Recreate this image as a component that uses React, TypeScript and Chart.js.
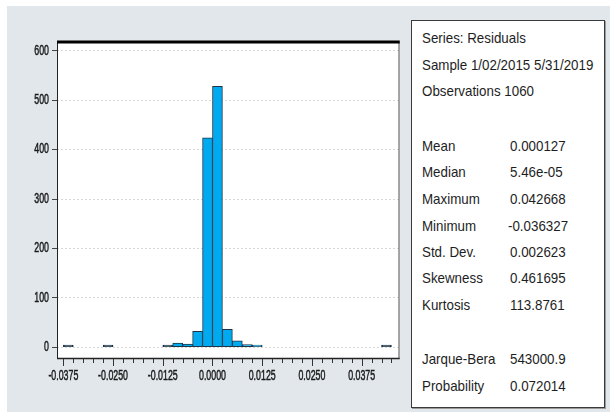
import React, { useEffect, useRef } from "react";
import { Chart, registerables } from "chart.js";

Chart.register(...registerables);

// ---- data ----
const binLeftEdges = [-0.0375, -0.0275, -0.0125, -0.01, -0.0075, -0.005, -0.0025, 0.0, 0.0025, 0.005, 0.0075, 0.01, 0.0425];
const binCounts = [1, 1, 2, 8, 6, 32, 424, 528, 36, 13, 5, 3, 1];
const binWidth = 0.0025;

const yTickValues = [0, 100, 200, 300, 400, 500, 600];
const xMajorTicks = [-0.0375, -0.025, -0.0125, 0, 0.0125, 0.025, 0.0375];
const xTickLabels = ["-0.0375", "-0.0250", "-0.0125", "0.0000", "0.0125", "0.0250", "0.0375"];
const xMinorTickFirst = -0.0375;
const xMinorTickLast = 0.045;
const xMinorStep = 0.0025;

const statLabels = ["Mean", "Median", "Maximum", "Minimum", "Std. Dev.", "Skewness", "Kurtosis"];
const statValues = ["0.000127", "5.46e-05", "0.042668", "-0.036327", "0.002623", "0.461695", "113.8761"];
const testLabels = ["Jarque-Bera", "Probability"];
const testValues = ["543000.9", "0.072014"];
const headerLines = ["Series: Residuals", "Sample 1/02/2015 5/31/2019", "Observations 1060"];

const AXIS_FONT = "14px 'Liberation Sans', Arial, sans-serif";
const AXIS_SQUEEZE = 0.63;
const TEXT_FONT = "'Liberation Sans', Arial, sans-serif";
const BAR_FILL = "#00aaf0";
const BAR_EDGE = "#1d3446";

function drawSqueezed(ctx: CanvasRenderingContext2D, text: string, x: number, y: number, align: "center" | "right") {
  ctx.save();
  ctx.translate(x, y);
  ctx.scale(AXIS_SQUEEZE, 1);
  ctx.textAlign = align;
  ctx.textBaseline = "middle";
  ctx.fillText(text, 0, 0);
  ctx.lineWidth = 0.5;
  ctx.strokeText(text, 0, 0);
  ctx.restore();
}

const framePlugin = {
  id: "frame",
  beforeDraw(chart: any) {
    const { ctx, chartArea: a } = chart;
    ctx.save();
    ctx.fillStyle = "#ffffff";
    ctx.fillRect(a.left, a.top, a.right - a.left, a.bottom - a.top);
    ctx.restore();
  },
  afterDraw(chart: any) {
    const { ctx, chartArea: a } = chart;
    const xs = chart.scales.x;
    const ys = chart.scales.y;
    ctx.save();
    // frame
    ctx.strokeStyle = "#8a8a8a";
    ctx.lineWidth = 1.5;
    ctx.beginPath();
    ctx.moveTo(a.right, a.top);
    ctx.lineTo(a.right, a.bottom);
    ctx.stroke();
    ctx.strokeStyle = "#222222";
    ctx.lineWidth = 1;
    ctx.beginPath();
    ctx.moveTo(a.left + 0.5, a.top);
    ctx.lineTo(a.left + 0.5, a.bottom);
    ctx.stroke();
    ctx.lineWidth = 1.5;
    ctx.beginPath();
    ctx.moveTo(a.left, a.bottom + 0.5);
    ctx.lineTo(a.right + 0.75, a.bottom + 0.5);
    ctx.stroke();
    ctx.strokeStyle = "#000000";
    ctx.lineWidth = 3;
    ctx.beginPath();
    ctx.moveTo(a.left, a.top);
    ctx.lineTo(a.right + 0.75, a.top);
    ctx.stroke();
    // x tick marks
    ctx.strokeStyle = "#333333";
    ctx.lineWidth = 1;
    const n = Math.round((xMinorTickLast - xMinorTickFirst) / xMinorStep);
    for (let k = 0; k <= n; k++) {
      const v = xMinorTickFirst + k * xMinorStep;
      const isMajor = xMajorTicks.some((m) => Math.abs(m - v) < 1e-9);
      const px = Math.round(xs.getPixelForValue(v)) + 0.5;
      ctx.beginPath();
      ctx.moveTo(px, a.bottom + 1);
      ctx.lineTo(px, a.bottom + (isMajor ? 8 : 5));
      ctx.stroke();
    }
    // tick labels (condensed, like the EViews output)
    ctx.fillStyle = "#1a1a1a";
    ctx.strokeStyle = "#1a1a1a";
    ctx.font = AXIS_FONT;
    xMajorTicks.forEach((v, i) => {
      drawSqueezed(ctx, xTickLabels[i], xs.getPixelForValue(v), a.bottom + 18, "center");
    });
    yTickValues.forEach((v) => {
      drawSqueezed(ctx, String(v), a.left - 8, ys.getPixelForValue(v), "right");
    });
    ctx.restore();
  },
};

function HistogramChart() {
  const ref = useRef<HTMLCanvasElement | null>(null);
  useEffect(() => {
    if (!ref.current) return;
    const data = binLeftEdges.map((l, i) => ({ x: l + binWidth / 2, y: binCounts[i] }));
    const chart = new Chart(ref.current, {
      type: "bar",
      data: {
        datasets: [
          {
            data,
            // bins holding only a count or two are thinner than their outline: show them as the dark dash
            backgroundColor: (c: any) => (c.raw && c.raw.y <= 2 ? BAR_EDGE : BAR_FILL),
            borderColor: BAR_EDGE,
            borderWidth: 1,
            borderSkipped: false,
            barPercentage: 1,
            categoryPercentage: 1,
            minBarLength: 2,
          } as any,
        ],
      },
      options: {
        responsive: false,
        animation: false,
        layout: { padding: { left: 0, top: 42, right: 11, bottom: 0 } },
        plugins: { legend: { display: false }, tooltip: { enabled: false } },
        scales: {
          x: {
            type: "linear",
            min: -0.0391,
            max: 0.0469,
            offset: false,
            afterBuildTicks: (s: any) => {
              s.ticks = xMajorTicks.map((v) => ({ value: v }));
            },
            afterFit: (s: any) => {
              s.height = 54;
            },
            grid: { display: false, drawTicks: false },
            border: { display: false },
            ticks: { display: false, autoSkip: false, maxRotation: 0 },
          },
          y: {
            type: "linear",
            min: -22,
            max: 618,
            afterBuildTicks: (s: any) => {
              s.ticks = yTickValues.map((v) => ({ value: v }));
            },
            afterFit: (s: any) => {
              s.width = 57;
            },
            grid: {
              color: "#d6d6d6",
              lineWidth: 1,
              drawTicks: true,
              tickLength: 5,
              tickColor: "#444444",
              tickBorderDash: [],
            },
            border: { display: false, dash: [2, 2] },
            ticks: { display: false },
          },
        },
      } as any,
      plugins: [framePlugin],
    });
    return () => chart.destroy();
  }, []);
  return (
    <canvas
      ref={ref}
      width={410}
      height={412}
      style={{ position: "absolute", left: 0, top: 0, width: 410, height: 412 }}
    />
  );
}

const lineStyle = (centerY: number): React.CSSProperties => ({
  position: "absolute",
  top: centerY - 9,
  height: 18,
  lineHeight: "18px",
  whiteSpace: "nowrap",
  transform: "scaleX(0.92)",
  transformOrigin: "left center",
});

export default function App() {
  const statCenters = [146, 172, 199, 226, 252, 278, 305];
  const testCenters = [359, 386];
  const headerCenters = [38, 65, 91];
  return (
    <div
      style={{
        position: "absolute",
        left: 0,
        top: 0,
        width: 610,
        height: 412,
        background: "#ffffff",
        overflow: "hidden",
        fontFamily: TEXT_FONT,
      }}
    >
      <div style={{ position: "absolute", left: 7, top: 6, width: 603, height: 406, background: "#e2e7eb" }} />
      <HistogramChart />
      <div
        style={{
          position: "absolute",
          left: 411,
          top: 20,
          width: 192,
          height: 386,
          background: "#ffffff",
          border: "1px solid #3a3a3a",
          boxShadow: "1px 1px 0 #9a9a9a",
        }}
      />
      <div style={{ position: "absolute", left: 0, top: 0, fontSize: 14.5, color: "#1e1e1e" }}>
        {headerLines.map((t, i) => (
          <div key={"h" + i} style={{ ...lineStyle(headerCenters[i]), left: 422 }}>
            {t}
          </div>
        ))}
        {statLabels.map((t, i) => (
          <React.Fragment key={"s" + i}>
            <div style={{ ...lineStyle(statCenters[i]), left: 422 }}>{t}</div>
            <div style={{ ...lineStyle(statCenters[i]), left: statValues[i].startsWith("-") ? 508 : 510 }}>
              {statValues[i]}
            </div>
          </React.Fragment>
        ))}
        {testLabels.map((t, i) => (
          <React.Fragment key={"t" + i}>
            <div style={{ ...lineStyle(testCenters[i]), left: 422 }}>{t}</div>
            <div style={{ ...lineStyle(testCenters[i]), left: 510 }}>{testValues[i]}</div>
          </React.Fragment>
        ))}
      </div>
    </div>
  );
}
